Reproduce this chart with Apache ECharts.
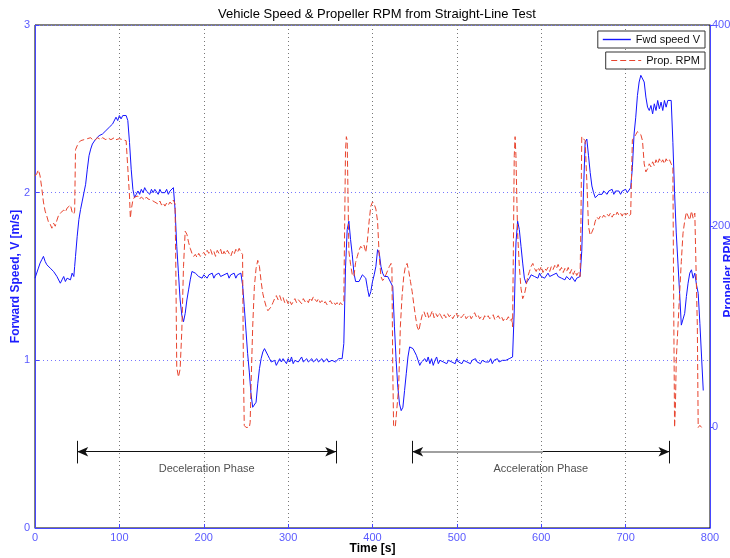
<!DOCTYPE html>
<html>
<head>
<meta charset="utf-8">
<title>Vehicle Speed &amp; Propeller RPM</title>
<script src="https://cdn.jsdelivr.net/npm/echarts@6/dist/echarts.min.js"></script>
<style>
  html, body { margin: 0; padding: 0; background: #ffffff; overflow: hidden; }
  #chart { width: 730px; height: 558px; }
</style>
</head>
<body>
<div id="chart"></div>
<script>
// Forward speed [s, m/s]
const speedData = [
  [0,1.49],[2,1.50],[4,1.55],[6,1.58],[8,1.60],[10,1.62],[12,1.59],[14,1.57],[16,1.58],[18,1.55],
  [20,1.56],[22,1.53],[24,1.54],[26,1.50],[28,1.49],[30,1.46],[32,1.48],[34,1.50],[36,1.47],[38,1.49],
  [40,1.50],[42,1.48],[44,1.52],[46,1.50],[47,1.56],[48,1.62],[50,1.74],[52,1.84],[54,1.90],[56,1.95],
  [58,2.00],[60,2.05],[62,2.14],[64,2.22],[66,2.26],[68,2.29],[70,2.30],[72,2.32],[74,2.31],[76,2.34],
  [78,2.33],[80,2.35],[82,2.34],[84,2.37],[86,2.36],[88,2.39],[90,2.38],[92,2.41],[94,2.42],[96,2.45],
  [98,2.43],[100,2.46],[102,2.44],[104,2.46],[106,2.47],[108,2.46],[110,2.43],[112,2.30],[114,2.14],[116,2.02],
  [118,1.97],[120,1.99],[122,2.01],[124,1.99],[126,2.02],[128,2.00],[130,2.03],[132,2.01],[134,2.02],[136,1.99],
  [138,2.02],[140,2.00],[142,2.02],[144,2.01],[146,1.99],[148,2.02],[150,2.00],[152,2.01],[154,2.00],[156,2.02],
  [158,1.99],[160,2.01],[162,2.00],[164,2.03],[166,1.90],[168,1.68],[170,1.52],[172,1.36],[174,1.27],[176,1.23],
  [178,1.28],[180,1.36],[182,1.42],[184,1.48],[186,1.53],[188,1.54],[190,1.52],[192,1.53],[194,1.50],[196,1.51],
  [198,1.49],[200,1.51],[202,1.52],[204,1.49],[206,1.51],[208,1.50],[210,1.52],[212,1.49],[214,1.51],[216,1.50],
  [218,1.52],[220,1.50],[222,1.49],[224,1.51],[226,1.50],[228,1.52],[230,1.49],[232,1.51],[234,1.50],[236,1.52],
  [238,1.49],[240,1.51],[242,1.50],[244,1.52],[246,1.45],[248,1.32],[250,1.18],[252,1.04],[254,0.93],[256,0.80],
  [258,0.72],[260,0.72],[262,0.75],[264,0.86],[266,0.95],[268,1.01],[270,1.05],[272,1.07],[274,1.06],[276,1.03],
  [278,1.01],[280,0.99],[282,0.98],[284,1.00],[286,0.97],[288,0.99],[290,1.01],[292,0.99],[294,1.01],[296,1.00],
  [298,0.98],[300,1.01],[302,0.99],[304,1.02],[306,0.98],[308,1.00],[310,1.01],[312,0.99],[314,1.00],[316,1.02],
  [318,0.99],[320,1.00],[322,1.01],[324,0.99],[326,1.00],[328,1.01],[330,0.99],[332,1.00],[334,1.01],[336,0.99],
  [338,1.00],[340,1.01],[342,0.99],[344,1.00],[346,1.01],[348,0.99],[350,1.00],[352,1.00],[354,1.01],[356,0.99],
  [358,1.00],[360,1.01],[362,1.00],[364,1.01],[366,1.10],[368,1.55],[370,1.78],[372,1.83],[374,1.72],[376,1.63],
  [378,1.52],[380,1.47],[382,1.48],[384,1.47],[386,1.49],[388,1.51],[390,1.52],[392,1.49],[394,1.43],[396,1.38],
  [398,1.41],[400,1.47],[402,1.51],[404,1.56],[406,1.66],[408,1.64],[410,1.56],[412,1.52],[414,1.50],[416,1.49],
  [418,1.50],[420,1.48],[422,1.47],[424,1.44],[426,1.20],[428,1.00],[430,0.84],[432,0.74],[434,0.70],[436,0.72],
  [438,0.82],[440,0.92],[442,1.02],[444,1.08],[446,1.09],[448,1.07],[450,1.05],[452,1.03],[454,1.00],[456,0.97],
  [458,0.99],[460,0.98],[462,1.01],[464,0.99],[466,1.02],[468,0.98],[470,1.01],[472,0.97],[474,1.00],[476,1.02],
  [478,0.98],[480,1.00],[482,1.01],[484,0.99],[486,1.00],[488,0.98],[490,1.00],[492,1.01],[494,0.99],[496,1.00],
  [498,0.98],[500,1.01],[502,0.99],[504,1.00],[506,0.98],[508,1.00],[510,1.01],[512,0.99],[514,1.00],[516,0.98],
  [518,1.00],[520,0.99],[522,1.01],[524,0.99],[526,1.00],[528,0.98],[530,1.00],[532,1.01],[534,0.99],[536,1.00],
  [538,0.99],[540,1.01],[542,0.98],[544,1.00],[546,0.99],[548,1.01],[550,0.99],[552,0.98],[554,1.00],[556,0.99],
  [558,1.00],[560,0.99],[562,1.01],[564,1.00],[566,1.02],[568,1.30],[570,1.70],[572,1.83],[574,1.78],[576,1.68],
  [578,1.58],[580,1.49],[582,1.46],[584,1.45],[586,1.49],[588,1.51],[590,1.52],[592,1.50],[594,1.51],[596,1.49],
  [598,1.52],[600,1.50],[602,1.51],[604,1.49],[606,1.50],[608,1.52],[610,1.50],[612,1.49],[614,1.51],[616,1.50],
  [618,1.52],[620,1.50],[622,1.51],[624,1.49],[626,1.50],[628,1.48],[630,1.50],[632,1.49],[634,1.48],[636,1.50],
  [638,1.49],[640,1.47],[642,1.49],[644,1.48],[646,1.50],[648,1.65],[650,2.00],[652,2.30],[654,2.32],[656,2.22],
  [658,2.12],[660,2.04],[662,2.00],[664,1.97],[666,1.96],[668,1.99],[670,2.00],[672,1.99],[674,2.01],[676,2.00],
  [678,1.99],[680,2.01],[682,2.00],[684,2.02],[686,1.99],[688,2.01],[690,2.00],[692,2.01],[694,1.99],[696,2.01],
  [698,2.00],[700,2.02],[702,2.00],[704,2.01],[706,2.03],[708,2.15],[710,2.35],[712,2.45],[714,2.58],[716,2.66],
  [718,2.70],[720,2.71],[722,2.66],[724,2.57],[726,2.51],[728,2.49],[730,2.52],[732,2.47],[734,2.53],[736,2.49],
  [738,2.55],[740,2.50],[742,2.54],[744,2.49],[746,2.55],[748,2.51],[750,2.55],[752,2.54],[754,2.55],[756,2.30],
  [758,2.00],[760,1.76],[762,1.58],[764,1.40],[766,1.21],[768,1.22],[770,1.28],[772,1.38],[774,1.46],[776,1.52],
  [778,1.54],[780,1.49],[782,1.52],[784,1.45],[786,1.40],[788,1.22],[790,1.02],[792,0.82]
];

// Propeller speed [s, RPM]
const rpmData = [
  [0,250],[2,252],[4,256],[6,250],[8,238],[10,224],[12,215],[14,210],[16,204],[18,202],
  [20,198],[22,203],[24,200],[26,206],[28,211],[30,213],[32,212],[34,216],[36,214],[38,218],
  [40,217],[42,221],[44,214],[46,212],[47,215],[48,276],[50,280],[52,283],[54,285],[56,284],
  [58,286],[60,285],[62,287],[64,286],[66,288],[68,286],[70,287],[72,286],[74,288],[76,287],
  [78,286],[80,288],[82,287],[84,286],[86,288],[88,287],[90,286],[92,287],[94,288],[96,286],
  [98,287],[100,287],[102,288],[104,286],[106,287],[108,285],[110,284],[112,230],[113,208],[114,216],
  [116,226],[118,229],[120,228],[122,230],[124,227],[126,229],[128,228],[130,226],[132,229],[134,227],
  [136,228],[138,226],[140,227],[142,224],[144,225],[146,222],[148,225],[150,221],[152,223],[154,220],
  [156,223],[158,221],[160,224],[162,222],[164,226],[166,222],[167,150],[168,60],[170,50],[172,58],
  [174,96],[176,160],[178,195],[180,192],[182,184],[184,178],[186,173],[188,170],[190,172],[192,169],
  [194,173],[196,170],[198,172],[200,174],[202,171],[204,176],[206,173],[208,177],[210,172],[212,175],
  [214,170],[216,176],[218,173],[220,177],[222,171],[224,175],[226,172],[228,176],[230,173],[232,170],
  [234,175],[236,172],[238,177],[240,174],[242,178],[244,174],[246,172],[247,60],[248,2],[250,0],
  [252,1],[254,0],[255,5],[256,40],[258,100],[260,140],[262,158],[264,166],[266,160],[268,145],
  [270,133],[272,126],[274,120],[276,116],[278,115],[280,120],[282,124],[284,128],[286,131],[288,127],
  [290,131],[292,126],[294,129],[296,124],[298,127],[300,123],[302,126],[304,122],[306,125],[308,128],
  [310,124],[312,127],[314,126],[316,123],[318,128],[320,125],[322,127],[324,124],[326,129],[328,126],
  [330,130],[332,127],[334,125],[336,128],[338,124],[340,126],[342,123],[344,125],[346,122],[348,124],
  [350,126],[352,123],[354,125],[356,122],[358,124],[360,121],[362,124],[364,122],[366,125],[367,200],
  [368,275],[369,289],[370,285],[371,230],[372,175],[374,162],[376,152],[378,150],[380,164],[382,170],
  [384,176],[386,180],[388,178],[390,181],[392,174],[394,186],[396,205],[398,220],[400,224],[402,222],
  [404,217],[406,205],[408,170],[410,150],[412,146],[414,148],[416,152],[418,156],[420,160],[422,163],
  [423,160],[424,60],[425,2],[427,0],[429,1],[431,40],[433,100],[435,130],[437,150],[439,160],
  [441,163],[443,155],[445,145],[447,135],[449,122],[451,110],[453,100],[455,96],[457,105],[459,112],
  [461,115],[463,110],[465,114],[467,108],[469,112],[471,116],[473,109],[475,113],[477,110],[479,114],
  [481,111],[483,108],[485,112],[487,109],[489,113],[491,110],[493,112],[495,108],[497,111],[499,114],
  [501,110],[503,112],[505,109],[507,111],[509,113],[511,108],[513,110],[515,112],[517,108],[519,111],
  [521,114],[523,110],[525,112],[527,108],[529,110],[531,107],[533,111],[535,109],[537,111],[539,108],
  [541,110],[543,112],[545,107],[547,109],[549,111],[551,108],[553,110],[555,106],[557,109],[559,107],
  [561,110],[563,106],[565,108],[566,100],[567,180],[568,270],[569,289],[570,270],[571,230],[572,193],
  [574,160],[576,138],[578,128],[580,132],[582,140],[584,150],[586,155],[588,160],[590,163],[592,158],
  [594,155],[596,159],[598,156],[600,160],[602,154],[604,158],[606,156],[608,159],[610,155],[612,160],
  [614,157],[616,161],[618,158],[620,162],[622,156],[624,159],[626,154],[628,158],[630,155],[632,159],
  [634,153],[636,157],[638,152],[640,156],[642,151],[644,154],[646,150],[647,200],[648,289],[650,290],
  [652,285],[654,245],[656,200],[658,191],[660,194],[662,198],[664,205],[666,209],[668,207],[670,210],
  [672,208],[674,211],[676,209],[678,212],[680,210],[682,213],[684,209],[686,212],[688,210],[690,214],
  [692,211],[694,213],[696,210],[698,214],[700,211],[702,213],[704,210],[706,212],[707,250],[708,286],
  [710,288],[712,291],[714,294],[716,293],[718,291],[720,285],[722,262],[724,254],[726,257],[728,262],
  [730,259],[732,264],[734,260],[736,266],[738,262],[740,267],[742,263],[744,266],[746,262],[748,267],
  [750,264],[752,266],[754,262],[756,258],[757,120],[758,0],[759,20],[760,67],[762,100],[764,133],
  [766,165],[768,193],[770,205],[772,214],[774,210],[776,206],[778,215],[780,208],[782,213],[784,212],
  [785,100],[786,0],[788,2],[790,0]
];

// Axis ranges and tick values
const timeRange = [0, 800];
const speedRange = [0, 3];
const rpmRange = [-100, 400];
const rpmTicks = [0, 200, 400];

// Test phases marked under the traces (time in s, height in m/s);
// `shade` is a lighter stretch drawn over part of the arrow shaft
const phases = [
  { name: 'Deceleration Phase', start: 50, end: 357, shade: null },
  { name: 'Acceleration Phase', start: 447, end: 752, shade: [457, 602] }
];
const phaseArrowLevel = 0.455;
const phaseBarLow = 0.385;
const phaseBarHigh = 0.52;
const phaseTextLevel = 0.352;

const FONT = '"Liberation Sans", Arial, Helvetica, sans-serif';
const AXIS_BLUE = '#4646ff';
const LABEL_BLUE = '#5a5aff';
const NAME_BLUE = '#1c1cff';
const SPEED_BLUE = '#1414ff';
const RPM_RED = '#e8442e';

const arrowLines = [];
phases.forEach(p => {
  arrowLines.push([
    { coord: [p.start, phaseArrowLevel], symbol: 'arrow' },
    { coord: [p.end, phaseArrowLevel], symbol: 'arrow' }
  ]);
  [p.start, p.end].forEach(t => {
    arrowLines.push([
      { coord: [t, phaseBarLow], symbol: 'none' },
      { coord: [t, phaseBarHigh], symbol: 'none' }
    ]);
  });
  if (p.shade) {
    arrowLines.push([
      { coord: [p.shade[0], phaseArrowLevel], symbol: 'none',
        lineStyle: { color: '#a0a0a0', width: 2 } },
      { coord: [p.shade[1], phaseArrowLevel], symbol: 'none' }
    ]);
  }
});

const legendBase = {
  right: 25,
  orient: 'vertical',
  padding: [3, 5, 3, 5],
  backgroundColor: '#fff',
  borderColor: '#333', borderWidth: 1, borderRadius: 0,
  selectedMode: false,
  textStyle: { fontFamily: FONT, fontSize: 11, color: '#111' }
};

const chart = echarts.init(document.getElementById('chart'), null, { renderer: 'canvas' });

chart.setOption({
  animation: false,
  backgroundColor: '#ffffff',
  textStyle: { fontFamily: FONT },
  title: {
    text: 'Vehicle Speed & Propeller RPM from Straight-Line Test',
    left: 372,
    top: 3,
    textAlign: 'center',
    textStyle: { fontFamily: FONT, fontSize: 13, fontWeight: 'normal', color: '#000' }
  },
  legend: [
    Object.assign({}, legendBase, {
      data: [{
        name: 'Fwd speed V',
        icon: 'path://M0,0L28,0L28,1.4L0,1.4Z',
        itemStyle: { color: SPEED_BLUE, opacity: 1, borderWidth: 0 }
      }],
      top: 31,
      itemWidth: 28, itemHeight: 1.4
    }),
    Object.assign({}, legendBase, {
      data: ['Prop. RPM'],
      top: 52,
      itemWidth: 30, itemHeight: 10,
      itemStyle: { opacity: 0 },
      lineStyle: { color: RPM_RED, width: 1, type: [6, 3] }
    })
  ],
  grid: {
    left: 35, right: 20, top: 25, bottom: 30,
    outerBoundsMode: 'none',
    containLabel: false,
    show: true, borderColor: '#000', borderWidth: 1, backgroundColor: '#fff'
  },
  xAxis: {
    type: 'value',
    min: timeRange[0], max: timeRange[1], interval: 100,
    name: 'Time [s]',
    nameLocation: 'middle',
    nameGap: 15,
    nameMoveOverlap: false,
    nameTextStyle: { fontFamily: FONT, fontSize: 12, fontWeight: 'bold', color: '#000' },
    axisLine: { show: true, lineStyle: { color: AXIS_BLUE, width: 1 } },
    axisTick: { show: true, inside: true, length: 4, lineStyle: { color: AXIS_BLUE } },
    axisLabel: { color: LABEL_BLUE, fontSize: 11, margin: 4, fontFamily: FONT },
    splitLine: { show: true, lineStyle: { color: '#777', type: [1, 3], width: 1 } }
  },
  yAxis: [
    {
      type: 'value',
      position: 'left',
      min: speedRange[0], max: speedRange[1], interval: 1,
      name: 'Forward Speed, V [m/s]',
      nameLocation: 'middle',
      nameGap: 13,
      nameRotate: 90,
      nameMoveOverlap: false,
      nameTextStyle: { fontFamily: FONT, fontSize: 12, fontWeight: 'bold', color: NAME_BLUE },
      axisLine: { show: true, lineStyle: { color: AXIS_BLUE, width: 1 } },
      axisTick: { show: true, inside: true, length: 4, lineStyle: { color: AXIS_BLUE } },
      axisLabel: { color: LABEL_BLUE, fontSize: 11, margin: 5, fontFamily: FONT },
      splitLine: { show: true, lineStyle: { color: '#7878ff', type: [1, 3], width: 1 } }
    },
    {
      type: 'value',
      position: 'right',
      min: rpmRange[0], max: rpmRange[1],
      name: 'Propeller RPM',
      nameLocation: 'middle',
      nameGap: 13,
      nameRotate: 90,
      nameMoveOverlap: false,
      nameTextStyle: { fontFamily: FONT, fontSize: 12, fontWeight: 'bold', color: NAME_BLUE },
      axisLine: { show: true, onZero: false, lineStyle: { color: AXIS_BLUE, width: 1 } },
      axisTick: { show: true, inside: false, length: 3, customValues: rpmTicks, lineStyle: { color: AXIS_BLUE } },
      axisLabel: { color: LABEL_BLUE, fontSize: 11, margin: 2, fontFamily: FONT, customValues: rpmTicks },
      splitLine: { show: false }
    }
  ],
  series: [
    {
      name: 'Fwd speed V',
      type: 'line',
      yAxisIndex: 0,
      data: speedData,
      symbol: 'none',
      showSymbol: false,
      itemStyle: { color: SPEED_BLUE },
      lineStyle: { color: SPEED_BLUE, width: 1 },
      z: 3
    },
    {
      name: 'Prop. RPM',
      type: 'line',
      yAxisIndex: 1,
      data: rpmData,
      symbol: 'none',
      showSymbol: false,
      itemStyle: { color: RPM_RED },
      lineStyle: { color: RPM_RED, width: 1, type: [6, 3] },
      z: 4
    },
    {
      name: 'phases',
      type: 'line',
      yAxisIndex: 0,
      data: [],
      silent: true,
      markLine: {
        silent: true,
        animation: false,
        symbol: ['arrow', 'arrow'],
        symbolSize: [7, 11],
        label: { show: false },
        lineStyle: { color: '#111', type: 'solid', width: 1 },
        data: arrowLines
      },
      z: 5
    },
    {
      name: 'phase labels',
      type: 'scatter',
      yAxisIndex: 0,
      symbolSize: 0,
      silent: true,
      data: phases.map(p => [(p.start + p.end) / 2, phaseTextLevel, p.name]),
      label: {
        show: true,
        position: 'inside',
        formatter: p => p.data[2],
        fontFamily: FONT,
        fontSize: 11,
        color: '#222'
      },
      z: 5
    }
  ]
});
</script>
</body>
</html>
